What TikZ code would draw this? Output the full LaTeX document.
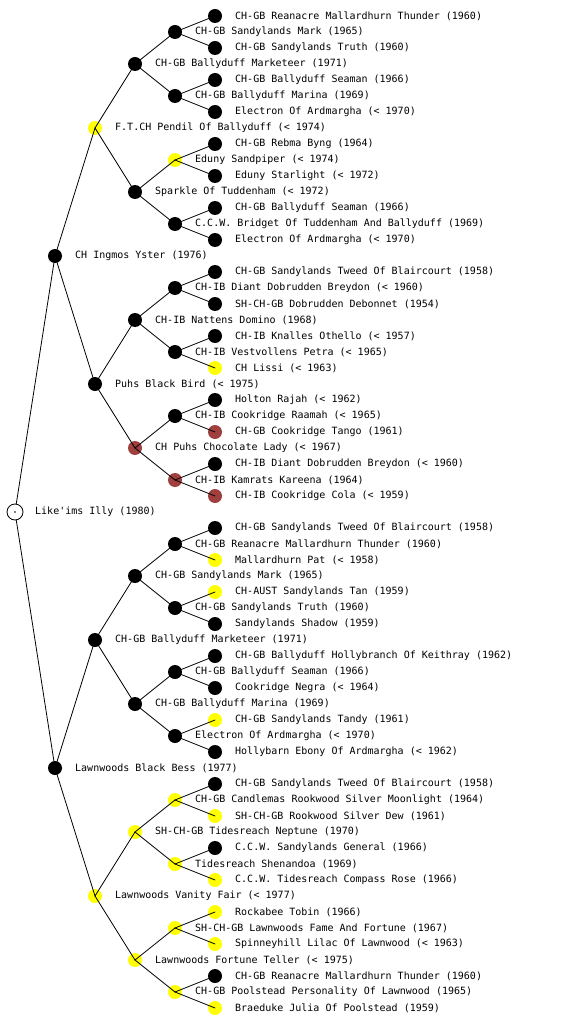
\documentclass[tikz,border=0pt]{standalone}
\usepackage{fontspec}
\setmonofont{DejaVu Sans Mono}
\usepackage{tikz}
\usepackage{xcolor}
\definecolor{liver}{RGB}{160,64,62}
\definecolor{pedyel}{RGB}{255,255,0}

\begin{document}
\begin{tikzpicture}[x=1pt,y=-1pt,line cap=round,
  dog/.style={circle,inner sep=0pt,minimum size=14pt},
  blk/.style={dog,fill=black},
  yel/.style={dog,fill=pedyel},
  brn/.style={dog,fill=liver},
  nm/.style={anchor=west,inner sep=2pt,font=\ttfamily\fontsize{10}{12}\selectfont},
  edge/.style={line width=0.8pt}]
\useasboundingbox (0,0) rectangle (560,1024);
% root
\node[dog,draw,fill=white,line width=0.8pt,minimum size=16pt] (r) at (15,512) {};
\fill (r.center) circle (0.8pt);
\node[nm] (r-t) at (33,512) {Like'ims Illy (1980)};
% parents
\node[blk] (s) at (55,256) {};
\node[nm] (s-t) at (73,256) {CH Ingmos Yster (1976)};
\node[blk] (d) at (55,768) {};
\node[nm] (d-t) at (73,768) {Lawnwoods Black Bess (1977)};
% grandparents
\node[yel] (ss) at (95,128) {};
\node[nm] (ss-t) at (113,128) {F.T.CH Pendil Of Ballyduff (< 1974)};
\node[blk] (sd) at (95,384) {};
\node[nm] (sd-t) at (113,384) {Puhs Black Bird (< 1975)};
\node[blk] (ds) at (95,640) {};
\node[nm] (ds-t) at (113,640) {CH-GB Ballyduff Marketeer (1971)};
\node[yel] (dd) at (95,896) {};
\node[nm] (dd-t) at (113,896) {Lawnwoods Vanity Fair (< 1977)};
% great-grandparents
\node[blk] (sss) at (135,64) {};
\node[nm] (sss-t) at (153,64) {CH-GB Ballyduff Marketeer (1971)};
\node[blk] (ssd) at (135,192) {};
\node[nm] (ssd-t) at (153,192) {Sparkle Of Tuddenham (< 1972)};
\node[blk] (sds) at (135,320) {};
\node[nm] (sds-t) at (153,320) {CH-IB Nattens Domino (1968)};
\node[brn] (sdd) at (135,448) {};
\node[nm] (sdd-t) at (153,448) {CH Puhs Chocolate Lady (< 1967)};
\node[blk] (dss) at (135,576) {};
\node[nm] (dss-t) at (153,576) {CH-GB Sandylands Mark (1965)};
\node[blk] (dsd) at (135,704) {};
\node[nm] (dsd-t) at (153,704) {CH-GB Ballyduff Marina (1969)};
\node[yel] (dds) at (135,832) {};
\node[nm] (dds-t) at (153,832) {SH-CH-GB Tidesreach Neptune (1970)};
\node[yel] (ddd) at (135,960) {};
\node[nm] (ddd-t) at (153,960) {Lawnwoods Fortune Teller (< 1975)};
% 4th generation
\node[blk] (ssss) at (175,32) {};
\node[nm] (ssss-t) at (193,32) {CH-GB Sandylands Mark (1965)};
\node[blk] (sssd) at (175,96) {};
\node[nm] (sssd-t) at (193,96) {CH-GB Ballyduff Marina (1969)};
\node[yel] (ssds) at (175,160) {};
\node[nm] (ssds-t) at (193,160) {Eduny Sandpiper (< 1974)};
\node[blk] (ssdd) at (175,224) {};
\node[nm] (ssdd-t) at (193,224) {C.C.W. Bridget Of Tuddenham And Ballyduff (1969)};
\node[blk] (sdss) at (175,288) {};
\node[nm] (sdss-t) at (193,288) {CH-IB Diant Dobrudden Breydon (< 1960)};
\node[blk] (sdsd) at (175,352) {};
\node[nm] (sdsd-t) at (193,352) {CH-IB Vestvollens Petra (< 1965)};
\node[blk] (sdds) at (175,416) {};
\node[nm] (sdds-t) at (193,416) {CH-IB Cookridge Raamah (< 1965)};
\node[brn] (sddd) at (175,480) {};
\node[nm] (sddd-t) at (193,480) {CH-IB Kamrats Kareena (1964)};
\node[blk] (dsss) at (175,544) {};
\node[nm] (dsss-t) at (193,544) {CH-GB Reanacre Mallardhurn Thunder (1960)};
\node[blk] (dssd) at (175,608) {};
\node[nm] (dssd-t) at (193,608) {CH-GB Sandylands Truth (1960)};
\node[blk] (dsds) at (175,672) {};
\node[nm] (dsds-t) at (193,672) {CH-GB Ballyduff Seaman (1966)};
\node[blk] (dsdd) at (175,736) {};
\node[nm] (dsdd-t) at (193,736) {Electron Of Ardmargha (< 1970)};
\node[yel] (ddss) at (175,800) {};
\node[nm] (ddss-t) at (193,800) {CH-GB Candlemas Rookwood Silver Moonlight (1964)};
\node[yel] (ddsd) at (175,864) {};
\node[nm] (ddsd-t) at (193,864) {Tidesreach Shenandoa (1969)};
\node[yel] (ddds) at (175,928) {};
\node[nm] (ddds-t) at (193,928) {SH-CH-GB Lawnwoods Fame And Fortune (1967)};
\node[yel] (dddd) at (175,992) {};
\node[nm] (dddd-t) at (193,992) {CH-GB Poolstead Personality Of Lawnwood (1965)};
% 5th generation
\node[blk] (sssss) at (215,16) {};
\node[nm] (sssss-t) at (233,16) {CH-GB Reanacre Mallardhurn Thunder (1960)};
\node[blk] (ssssd) at (215,48) {};
\node[nm] (ssssd-t) at (233,48) {CH-GB Sandylands Truth (1960)};
\node[blk] (sssds) at (215,80) {};
\node[nm] (sssds-t) at (233,80) {CH-GB Ballyduff Seaman (1966)};
\node[blk] (sssdd) at (215,112) {};
\node[nm] (sssdd-t) at (233,112) {Electron Of Ardmargha (< 1970)};
\node[blk] (ssdss) at (215,144) {};
\node[nm] (ssdss-t) at (233,144) {CH-GB Rebma Byng (1964)};
\node[blk] (ssdsd) at (215,176) {};
\node[nm] (ssdsd-t) at (233,176) {Eduny Starlight (< 1972)};
\node[blk] (ssdds) at (215,208) {};
\node[nm] (ssdds-t) at (233,208) {CH-GB Ballyduff Seaman (1966)};
\node[blk] (ssddd) at (215,240) {};
\node[nm] (ssddd-t) at (233,240) {Electron Of Ardmargha (< 1970)};
\node[blk] (sdsss) at (215,272) {};
\node[nm] (sdsss-t) at (233,272) {CH-GB Sandylands Tweed Of Blaircourt (1958)};
\node[blk] (sdssd) at (215,304) {};
\node[nm] (sdssd-t) at (233,304) {SH-CH-GB Dobrudden Debonnet (1954)};
\node[blk] (sdsds) at (215,336) {};
\node[nm] (sdsds-t) at (233,336) {CH-IB Knalles Othello (< 1957)};
\node[yel] (sdsdd) at (215,368) {};
\node[nm] (sdsdd-t) at (233,368) {CH Lissi (< 1963)};
\node[blk] (sddss) at (215,400) {};
\node[nm] (sddss-t) at (233,400) {Holton Rajah (< 1962)};
\node[brn] (sddsd) at (215,432) {};
\node[nm] (sddsd-t) at (233,432) {CH-GB Cookridge Tango (1961)};
\node[blk] (sddds) at (215,464) {};
\node[nm] (sddds-t) at (233,464) {CH-IB Diant Dobrudden Breydon (< 1960)};
\node[brn] (sdddd) at (215,496) {};
\node[nm] (sdddd-t) at (233,496) {CH-IB Cookridge Cola (< 1959)};
\node[blk] (dssss) at (215,528) {};
\node[nm] (dssss-t) at (233,528) {CH-GB Sandylands Tweed Of Blaircourt (1958)};
\node[yel] (dsssd) at (215,560) {};
\node[nm] (dsssd-t) at (233,560) {Mallardhurn Pat (< 1958)};
\node[yel] (dssds) at (215,592) {};
\node[nm] (dssds-t) at (233,592) {CH-AUST Sandylands Tan (1959)};
\node[blk] (dssdd) at (215,624) {};
\node[nm] (dssdd-t) at (233,624) {Sandylands Shadow (1959)};
\node[blk] (dsdss) at (215,656) {};
\node[nm] (dsdss-t) at (233,656) {CH-GB Ballyduff Hollybranch Of Keithray (1962)};
\node[blk] (dsdsd) at (215,688) {};
\node[nm] (dsdsd-t) at (233,688) {Cookridge Negra (< 1964)};
\node[yel] (dsdds) at (215,720) {};
\node[nm] (dsdds-t) at (233,720) {CH-GB Sandylands Tandy (1961)};
\node[blk] (dsddd) at (215,752) {};
\node[nm] (dsddd-t) at (233,752) {Hollybarn Ebony Of Ardmargha (< 1962)};
\node[blk] (ddsss) at (215,784) {};
\node[nm] (ddsss-t) at (233,784) {CH-GB Sandylands Tweed Of Blaircourt (1958)};
\node[yel] (ddssd) at (215,816) {};
\node[nm] (ddssd-t) at (233,816) {SH-CH-GB Rookwood Silver Dew (1961)};
\node[blk] (ddsds) at (215,848) {};
\node[nm] (ddsds-t) at (233,848) {C.C.W. Sandylands General (1966)};
\node[yel] (ddsdd) at (215,880) {};
\node[nm] (ddsdd-t) at (233,880) {C.C.W. Tidesreach Compass Rose (1966)};
\node[yel] (dddss) at (215,912) {};
\node[nm] (dddss-t) at (233,912) {Rockabee Tobin (1966)};
\node[yel] (dddsd) at (215,944) {};
\node[nm] (dddsd-t) at (233,944) {Spinneyhill Lilac Of Lawnwood (< 1963)};
\node[blk] (dddds) at (215,976) {};
\node[nm] (dddds-t) at (233,976) {CH-GB Reanacre Mallardhurn Thunder (1960)};
\node[yel] (ddddd) at (215,1008) {};
\node[nm] (ddddd-t) at (233,1008) {Braeduke Julia Of Poolstead (1959)};
% branches
\draw[edge] (r) -- (s.center);
\draw[edge] (r) -- (d.center);
\draw[edge] (s.center) -- (ss.center);
\draw[edge] (s.center) -- (sd.center);
\draw[edge] (d.center) -- (ds.center);
\draw[edge] (d.center) -- (dd.center);
\draw[edge] (ss.center) -- (sss.center);
\draw[edge] (ss.center) -- (ssd.center);
\draw[edge] (sd.center) -- (sds.center);
\draw[edge] (sd.center) -- (sdd.center);
\draw[edge] (ds.center) -- (dss.center);
\draw[edge] (ds.center) -- (dsd.center);
\draw[edge] (dd.center) -- (dds.center);
\draw[edge] (dd.center) -- (ddd.center);
\draw[edge] (sss.center) -- (ssss.center);
\draw[edge] (sss.center) -- (sssd.center);
\draw[edge] (ssd.center) -- (ssds.center);
\draw[edge] (ssd.center) -- (ssdd.center);
\draw[edge] (sds.center) -- (sdss.center);
\draw[edge] (sds.center) -- (sdsd.center);
\draw[edge] (sdd.center) -- (sdds.center);
\draw[edge] (sdd.center) -- (sddd.center);
\draw[edge] (dss.center) -- (dsss.center);
\draw[edge] (dss.center) -- (dssd.center);
\draw[edge] (dsd.center) -- (dsds.center);
\draw[edge] (dsd.center) -- (dsdd.center);
\draw[edge] (dds.center) -- (ddss.center);
\draw[edge] (dds.center) -- (ddsd.center);
\draw[edge] (ddd.center) -- (ddds.center);
\draw[edge] (ddd.center) -- (dddd.center);
\draw[edge] (ssss.center) -- (sssss.center);
\draw[edge] (ssss.center) -- (ssssd.center);
\draw[edge] (sssd.center) -- (sssds.center);
\draw[edge] (sssd.center) -- (sssdd.center);
\draw[edge] (ssds.center) -- (ssdss.center);
\draw[edge] (ssds.center) -- (ssdsd.center);
\draw[edge] (ssdd.center) -- (ssdds.center);
\draw[edge] (ssdd.center) -- (ssddd.center);
\draw[edge] (sdss.center) -- (sdsss.center);
\draw[edge] (sdss.center) -- (sdssd.center);
\draw[edge] (sdsd.center) -- (sdsds.center);
\draw[edge] (sdsd.center) -- (sdsdd.center);
\draw[edge] (sdds.center) -- (sddss.center);
\draw[edge] (sdds.center) -- (sddsd.center);
\draw[edge] (sddd.center) -- (sddds.center);
\draw[edge] (sddd.center) -- (sdddd.center);
\draw[edge] (dsss.center) -- (dssss.center);
\draw[edge] (dsss.center) -- (dsssd.center);
\draw[edge] (dssd.center) -- (dssds.center);
\draw[edge] (dssd.center) -- (dssdd.center);
\draw[edge] (dsds.center) -- (dsdss.center);
\draw[edge] (dsds.center) -- (dsdsd.center);
\draw[edge] (dsdd.center) -- (dsdds.center);
\draw[edge] (dsdd.center) -- (dsddd.center);
\draw[edge] (ddss.center) -- (ddsss.center);
\draw[edge] (ddss.center) -- (ddssd.center);
\draw[edge] (ddsd.center) -- (ddsds.center);
\draw[edge] (ddsd.center) -- (ddsdd.center);
\draw[edge] (ddds.center) -- (dddss.center);
\draw[edge] (ddds.center) -- (dddsd.center);
\draw[edge] (dddd.center) -- (dddds.center);
\draw[edge] (dddd.center) -- (ddddd.center);
\end{tikzpicture}
\end{document}
